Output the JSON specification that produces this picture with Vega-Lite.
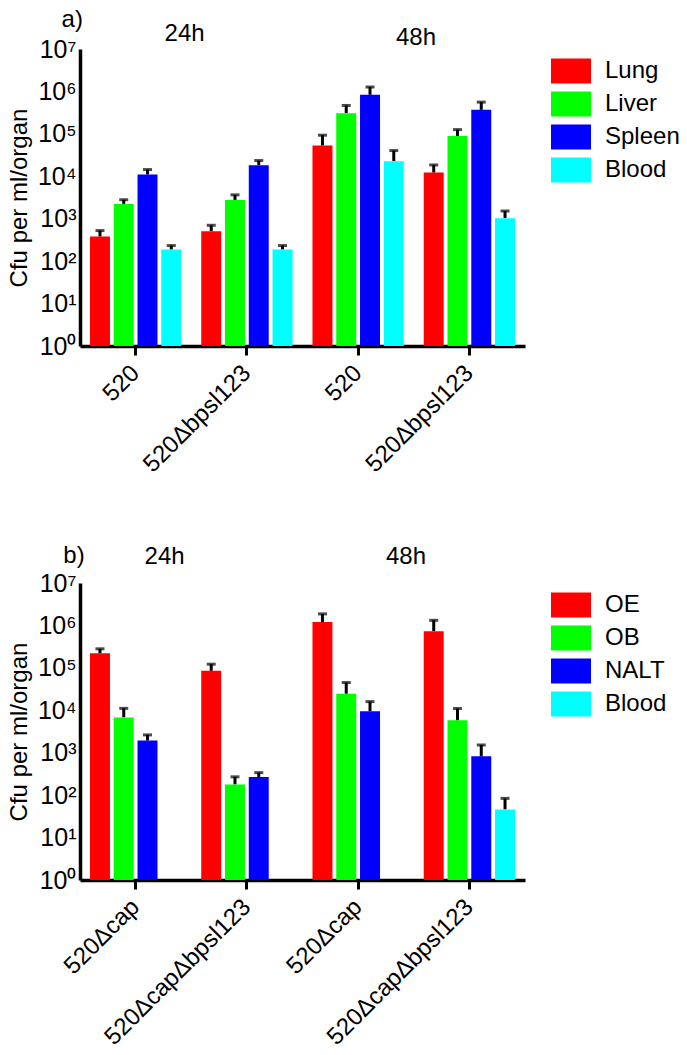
{
  "$schema": "https://vega.github.io/schema/vega-lite/v6.json",
  "background": "white",
  "padding": {"left": 7, "top": 8, "right": 0, "bottom": 5},
  "spacing": 67,
  "config": {
    "view": {"stroke": null},
    "font": "Liberation Sans",
    "axis": {"domainColor": "black", "domainWidth": 3.5, "labelColor": "black", "titleColor": "black", "grid": false, "labelFontWeight": "normal", "titleFontWeight": "normal"},
    "legend": {"labelColor": "black"},
    "text": {"fontSize": 24, "color": "black", "align": "center", "baseline": "middle"}
  },
  "datasets": {
    "a": [
      {"group": "520|24h", "organ": "Lung", "value": 380, "err": 525},
      {"group": "520|24h", "organ": "Liver", "value": 2230, "err": 2800},
      {"group": "520|24h", "organ": "Spleen", "value": 11000, "err": 14400},
      {"group": "520|24h", "organ": "Blood", "value": 187, "err": 233},
      {"group": "520Δbpsl123|24h", "organ": "Lung", "value": 505, "err": 700},
      {"group": "520Δbpsl123|24h", "organ": "Liver", "value": 2770, "err": 3650},
      {"group": "520Δbpsl123|24h", "organ": "Spleen", "value": 18300, "err": 23500},
      {"group": "520Δbpsl123|24h", "organ": "Blood", "value": 187, "err": 233},
      {"group": "520|48h", "organ": "Lung", "value": 53000, "err": 93000},
      {"group": "520|48h", "organ": "Liver", "value": 308000, "err": 467000},
      {"group": "520|48h", "organ": "Spleen", "value": 832000, "err": 1270000},
      {"group": "520|48h", "organ": "Blood", "value": 22700, "err": 40400},
      {"group": "520Δbpsl123|48h", "organ": "Lung", "value": 12200, "err": 18500},
      {"group": "520Δbpsl123|48h", "organ": "Liver", "value": 88600, "err": 126000},
      {"group": "520Δbpsl123|48h", "organ": "Spleen", "value": 368000, "err": 560000},
      {"group": "520Δbpsl123|48h", "organ": "Blood", "value": 1030, "err": 1520}
    ],
    "b": [
      {"group": "520Δcap|24h", "organ": "OE", "value": 220000, "err": 281000},
      {"group": "520Δcap|24h", "organ": "OB", "value": 6800, "err": 11100},
      {"group": "520Δcap|24h", "organ": "NALT", "value": 1940, "err": 2630},
      {"group": "520ΔcapΔbpsl123|24h", "organ": "OE", "value": 85000, "err": 122000},
      {"group": "520ΔcapΔbpsl123|24h", "organ": "OB", "value": 179, "err": 270},
      {"group": "520ΔcapΔbpsl123|24h", "organ": "NALT", "value": 268, "err": 339},
      {"group": "520Δcap|48h", "organ": "OE", "value": 1200000, "err": 1870000},
      {"group": "520Δcap|48h", "organ": "OB", "value": 24400, "err": 45000},
      {"group": "520Δcap|48h", "organ": "NALT", "value": 9500, "err": 16000},
      {"group": "520ΔcapΔbpsl123|48h", "organ": "OE", "value": 730000, "err": 1320000},
      {"group": "520ΔcapΔbpsl123|48h", "organ": "OB", "value": 5800, "err": 11000},
      {"group": "520ΔcapΔbpsl123|48h", "organ": "NALT", "value": 820, "err": 1520},
      {"group": "520ΔcapΔbpsl123|48h", "organ": "Blood", "value": 46, "err": 84}
    ]
  },
  "resolve": {"scale": {"color": "independent", "xOffset": "independent", "x": "independent", "y": "independent"}},
  "vconcat": [
    {
      "width": 445,
      "height": 297,
      "encoding": {
        "x": {"field": "group", "type": "nominal", "sort": null, "title": null,
          "scale": {"paddingInner": 0, "paddingOuter": 0},
          "axis": {"labelExpr": "split(datum.value, '|')[0]", "labelAngle": -45, "labelAlign": "right", "labelBaseline": "middle", "labelFontSize": 24, "labelPadding": 14, "labelLimit": 400, "tickColor": "black", "tickWidth": 3, "tickSize": 9, "domainWidth": 3.5}}
      },
      "layer": [
        {
          "data": {"name": "a"},
          "mark": {"type": "rule", "color": "black", "strokeWidth": 3},
          "encoding": {
            "xOffset": {"field": "organ", "type": "nominal", "scale": {"domain": ["Lung", "Liver", "Spleen", "Blood"], "paddingInner": 0.16, "paddingOuter": 0.42}},
            "y": {"field": "value", "type": "quantitative"}, "y2": {"field": "err"}}
        },
        {
          "data": {"name": "a"},
          "mark": {"type": "tick", "color": "black", "thickness": 3, "size": 9},
          "encoding": {
            "xOffset": {"field": "organ", "type": "nominal"},
            "y": {"field": "err", "type": "quantitative"}}
        },
        {
          "data": {"name": "a"},
          "mark": {"type": "bar"},
          "encoding": {
            "xOffset": {"field": "organ", "type": "nominal"},
            "y": {"field": "value", "type": "quantitative", "title": "Cfu per ml/organ",
              "scale": {"type": "log", "domain": [1, 10000000], "nice": false},
              "axis": {"values": [1, 10, 100, 1000, 10000, 100000, 1000000, 10000000], "labelExpr": "'10' + ['⁰','¹','²','³','⁴','⁵','⁶','⁷'][round(log(datum.value)/LN10)]", "labelFontSize": 25, "ticks": false, "labelPadding": 4, "titleFontSize": 24, "titlePadding": 6}},
            "y2": {"datum": 1},
            "color": {"field": "organ", "type": "nominal",
              "scale": {"domain": ["Lung", "Liver", "Spleen", "Blood"], "range": ["#ff0000", "#00ff00", "#0000ff", "#00ffff"]},
              "legend": {"title": null, "orient": "right", "offset": 24, "padding": 2, "symbolType": "M-1,-0.625H1V0.625H-1Z", "symbolSize": 1600, "symbolStrokeWidth": 0, "labelFontSize": 24, "labelOffset": 14, "rowPadding": -1}}
          }
        },
        {
          "data": {"values": [{"group": "520|24h", "label": "a)", "y": 48000000}]},
          "mark": {"type": "text"},
          "encoding": {"x": {"field": "group", "type": "nominal", "bandPosition": -0.07}, "y": {"field": "y", "type": "quantitative"}, "text": {"field": "label"}}
        },
        {
          "data": {"values": [{"group": "520|24h", "label": "24h", "y": 22600000}]},
          "mark": {"type": "text"},
          "encoding": {"x": {"field": "group", "type": "nominal", "bandPosition": 0.94}, "y": {"field": "y", "type": "quantitative"}, "text": {"field": "label"}}
        },
        {
          "data": {"values": [{"group": "520|48h", "label": "48h", "y": 18000000}]},
          "mark": {"type": "text"},
          "encoding": {"x": {"field": "group", "type": "nominal", "bandPosition": 1.02}, "y": {"field": "y", "type": "quantitative"}, "text": {"field": "label"}}
        }
      ]
    },
    {
      "width": 445,
      "height": 297,
      "encoding": {
        "x": {"field": "group", "type": "nominal", "sort": null, "title": null,
          "scale": {"paddingInner": 0, "paddingOuter": 0},
          "axis": {"labelExpr": "split(datum.value, '|')[0]", "labelAngle": -45, "labelAlign": "right", "labelBaseline": "middle", "labelFontSize": 24, "labelPadding": 14, "labelLimit": 400, "tickColor": "black", "tickWidth": 3, "tickSize": 9, "domainWidth": 3.5}}
      },
      "layer": [
        {
          "data": {"name": "b"},
          "mark": {"type": "rule", "color": "black", "strokeWidth": 3},
          "encoding": {
            "xOffset": {"field": "organ", "type": "nominal", "scale": {"domain": ["OE", "OB", "NALT", "Blood"], "paddingInner": 0.16, "paddingOuter": 0.42}},
            "y": {"field": "value", "type": "quantitative"}, "y2": {"field": "err"}}
        },
        {
          "data": {"name": "b"},
          "mark": {"type": "tick", "color": "black", "thickness": 3, "size": 9},
          "encoding": {
            "xOffset": {"field": "organ", "type": "nominal"},
            "y": {"field": "err", "type": "quantitative"}}
        },
        {
          "data": {"name": "b"},
          "mark": {"type": "bar"},
          "encoding": {
            "xOffset": {"field": "organ", "type": "nominal"},
            "y": {"field": "value", "type": "quantitative", "title": "Cfu per ml/organ",
              "scale": {"type": "log", "domain": [1, 10000000], "nice": false},
              "axis": {"values": [1, 10, 100, 1000, 10000, 100000, 1000000, 10000000], "labelExpr": "'10' + ['⁰','¹','²','³','⁴','⁵','⁶','⁷'][round(log(datum.value)/LN10)]", "labelFontSize": 25, "ticks": false, "labelPadding": 4, "titleFontSize": 24, "titlePadding": 6}},
            "y2": {"datum": 1},
            "color": {"field": "organ", "type": "nominal",
              "scale": {"domain": ["OE", "OB", "NALT", "Blood"], "range": ["#ff0000", "#00ff00", "#0000ff", "#00ffff"]},
              "legend": {"title": null, "orient": "right", "offset": 24, "padding": 2, "symbolType": "M-1,-0.625H1V0.625H-1Z", "symbolSize": 1600, "symbolStrokeWidth": 0, "labelFontSize": 24, "labelOffset": 14, "rowPadding": -1}}
          }
        },
        {
          "data": {"values": [{"group": "520Δcap|24h", "label": "b)", "y": 43000000}]},
          "mark": {"type": "text"},
          "encoding": {"x": {"field": "group", "type": "nominal", "bandPosition": -0.054}, "y": {"field": "y", "type": "quantitative"}, "text": {"field": "label"}}
        },
        {
          "data": {"values": [{"group": "520Δcap|24h", "label": "24h", "y": 40000000}]},
          "mark": {"type": "text"},
          "encoding": {"x": {"field": "group", "type": "nominal", "bandPosition": 0.76}, "y": {"field": "y", "type": "quantitative"}, "text": {"field": "label"}}
        },
        {
          "data": {"values": [{"group": "520Δcap|48h", "label": "48h", "y": 40000000}]},
          "mark": {"type": "text"},
          "encoding": {"x": {"field": "group", "type": "nominal", "bandPosition": 0.93}, "y": {"field": "y", "type": "quantitative"}, "text": {"field": "label"}}
        }
      ]
    }
  ]
}
